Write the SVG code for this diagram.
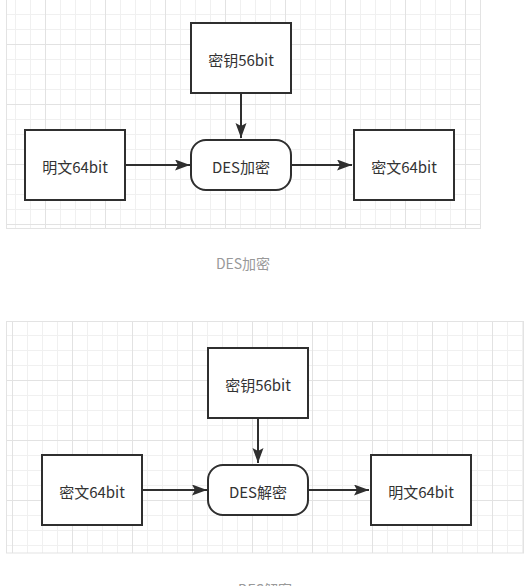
<svg xmlns="http://www.w3.org/2000/svg" width="525" height="586" viewBox="0 0 525 586">
<defs>
<style>
.panel{stroke:#e3e3e3;stroke-width:1}
.node{fill:#fff;stroke:#2f2f2f;stroke-width:2}
.lbl{font-family:"Noto Sans CJK SC","Noto Sans",sans-serif;font-size:15px;fill:#333;text-anchor:middle;dominant-baseline:central}
.cap{font-family:"Noto Sans CJK SC","Noto Sans",sans-serif;font-size:14px;fill:#999;text-anchor:middle;dominant-baseline:central}
.edge{fill:none;stroke:#2f2f2f;stroke-width:2}
</style>
<pattern id="g1" patternUnits="userSpaceOnUse" x="45" y="44" width="60" height="60">
<rect width="60" height="60" fill="#fff"/>
<rect x="15" y="0" width="1" height="60" fill="#f0f0f0"/>
<rect x="30" y="0" width="1" height="60" fill="#f0f0f0"/>
<rect x="45" y="0" width="1" height="60" fill="#f0f0f0"/>
<rect x="0" y="15" width="60" height="1" fill="#f0f0f0"/>
<rect x="0" y="30" width="60" height="1" fill="#f0f0f0"/>
<rect x="0" y="45" width="60" height="1" fill="#f0f0f0"/>
<rect x="0" y="0" width="1" height="60" fill="#e2e2e2"/>
<rect x="0" y="0" width="60" height="1" fill="#e2e2e2"/>
</pattern>
<pattern id="g2" href="#g1" x="12" y="380"/>
<marker id="arr" markerUnits="userSpaceOnUse" markerWidth="17" markerHeight="12" refX="15" refY="5.5" orient="auto">
<path d="M0,0 L15,5.5 L0,11 L3,5.5 Z" fill="#2f2f2f"/>
</marker>
</defs>
<rect width="525" height="586" fill="#fff"/>
<rect class="panel" x="6.5" y="-0.5" width="474" height="229" fill="url(#g1)"/>
<rect class="panel" x="6.5" y="321.5" width="517" height="231.5" fill="url(#g2)"/>

<g id="connectors">
<path class="edge" d="M241,93 V138" marker-end="url(#arr)"/>
<path class="edge" d="M125,165 H190" marker-end="url(#arr)"/>
<path class="edge" d="M291,165 H352" marker-end="url(#arr)"/>
<path class="edge" d="M258,418 V463" marker-end="url(#arr)"/>
<path class="edge" d="M142,490 H207" marker-end="url(#arr)"/>
<path class="edge" d="M308,490 H369" marker-end="url(#arr)"/>
</g>

<g id="enc-key"><rect class="node" x="191" y="23" width="100" height="70"/><text class="lbl" x="241" y="59">密钥56bit</text></g>
<g id="enc-plain"><rect class="node" x="25" y="130" width="100" height="70"/><text class="lbl" x="75" y="166">明文64bit</text></g>
<g id="enc-des"><rect class="node" x="191" y="140" width="100" height="50" rx="15" ry="15"/><text class="lbl" x="241" y="166">DES加密</text></g>
<g id="enc-cipher"><rect class="node" x="354" y="130" width="100" height="70"/><text class="lbl" x="404" y="166">密文64bit</text></g>
<text class="cap" x="243" y="263">DES加密</text>

<g id="dec-key"><rect class="node" x="208" y="348" width="100" height="70"/><text class="lbl" x="258" y="384">密钥56bit</text></g>
<g id="dec-cipher"><rect class="node" x="42" y="455" width="100" height="70"/><text class="lbl" x="92" y="491">密文64bit</text></g>
<g id="dec-des"><rect class="node" x="208" y="465" width="100" height="50" rx="15" ry="15"/><text class="lbl" x="258" y="491">DES解密</text></g>
<g id="dec-plain"><rect class="node" x="371" y="455" width="100" height="70"/><text class="lbl" x="421" y="491">明文64bit</text></g>
<text class="cap" x="265" y="589">DES解密</text>
</svg>
